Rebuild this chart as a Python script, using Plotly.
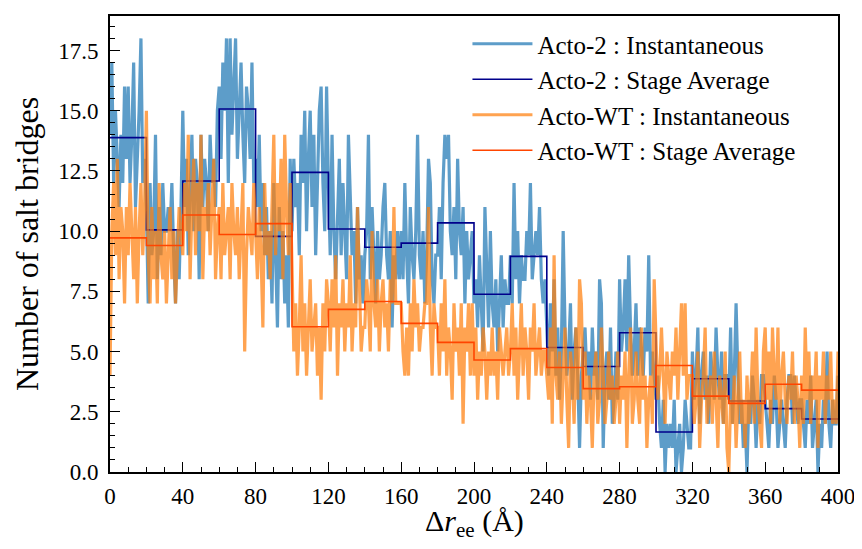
import plotly.graph_objects as go

# ---- data ----
# instantaneous values at delta r_ee = 0,1,2,...,400 (one block per 20-A stage)
acto2_inst = (
    [14, 17, 12, 15, 13, 11, 14, 12, 16, 13, 16, 12, 14, 17, 11, 13, 15, 18, 12, 13]
    + [11, 7, 12, 9, 10, 14, 8, 11, 9, 12, 10, 10, 11, 10, 12, 9, 7, 10, 8, 11]
    + [15, 11, 13, 9, 12, 14, 10, 13, 12, 8, 14, 11, 13, 12, 10, 14, 12, 13, 11, 15]
    + [16, 13, 17, 15, 18, 12, 18, 14, 16, 18, 13, 15, 17, 14, 12, 16, 15, 13, 17, 12]
    + [13, 11, 14, 10, 12, 9, 11, 8, 10, 7, 12, 9, 6, 11, 8, 10, 7, 9, 6, 13]
    + [10, 13, 11, 12, 9, 14, 12, 15, 10, 13, 15, 11, 14, 9, 12, 15, 16, 12, 10, 16]
    + [12, 9, 14, 10, 8, 11, 13, 9, 12, 10, 8, 14, 11, 9, 10, 7, 11, 8, 9, 7]
    + [9, 10, 14, 8, 11, 9, 7, 10, 8, 9, 11, 12, 9, 8, 10, 6, 9, 8, 10, 8]
    + [10, 8, 12, 9, 7, 11, 9, 8, 10, 14, 9, 8, 10, 7, 9, 13, 12, 8, 7, 9]
    + [9, 11, 8, 12, 14, 13, 14, 10, 9, 11, 8, 13, 10, 9, 11, 7, 10, 8, 9, 10]
    + [7, 8, 6, 9, 7, 5, 11, 8, 6, 10, 7, 6, 8, 5, 7, 9, 6, 8, 7, 7]
    + [9, 7, 12, 8, 10, 7, 9, 8, 8, 10, 9, 12, 8, 9, 10, 9, 11, 8, 7, 8]
    + [6, 4, 7, 5, 8, 4, 6, 3, 5, 10, 6, 4, 5, 7, 3, 5, 6, 4, 1, 4]
    + [5, 6, 4, 5, 3, 6, 4, 5, 3, 8, 7, 1, 4, 5, 3, 6, 2, 3, 5, 3]
    + [8, 5, 6, 8, 5, 9, 6, 4, 5, 7, 4, 6, 5, 4, 6, 5, 9, 4, 5, 4]
    + [3, 4, 2, 1, 3, 0, 2, 1, 2, 1, 3, 0, 1, 2, 0, 1, 3, 2, 1, 1]
    + [5, 3, 4, 6, 2, 4, 5, 3, 4, 2, 5, 4, 3, 6, 4, 3, 5, 2, 4, 4]
    + [3, 6, 2, 4, 7, 4, 2, 3, 1, 2, 0, 3, 2, 4, 3, 1, 3, 2, 4, 4]
    + [3, 2, 1, 3, 2, 4, 3, 1, 2, 3, 2, 1, 3, 4, 4, 2, 4, 3, 2, 3]
    + [3, 2, 1, 3, 2, 4, 1, 2, 3, 0, 2, 1, 3, 2, 5, 2, 1, 3, 2, 2]
    + [4]
)
actowt_inst = (
    [4, 10, 12, 9, 13, 8, 11, 10, 7, 11, 9, 12, 10, 8, 11, 7, 10, 12, 9, 11]
    + [15, 9, 7, 11, 8, 10, 7, 12, 9, 8, 10, 7, 9, 11, 8, 10, 7, 9, 11, 10]
    + [9, 12, 10, 14, 8, 11, 13, 9, 12, 10, 14, 8, 11, 10, 12, 9, 11, 13, 8, 10]
    + [11, 8, 12, 9, 10, 11, 8, 12, 10, 9, 11, 8, 10, 12, 5, 9, 11, 10, 9, 12]
    + [10, 8, 11, 9, 6, 12, 9, 10, 8, 11, 14, 9, 12, 10, 13, 8, 14, 11, 9, 12]
    + [8, 5, 7, 4, 6, 9, 5, 7, 4, 6, 8, 5, 6, 7, 4, 6, 3, 7, 5, 8]
    + [7, 5, 8, 6, 9, 4, 7, 6, 8, 5, 7, 6, 9, 5, 7, 6, 11, 8, 5, 6]
    + [6, 8, 7, 5, 10, 7, 6, 8, 5, 7, 8, 6, 7, 5, 8, 7, 11, 7, 7, 7]
    + [7, 5, 4, 6, 4, 7, 5, 8, 6, 7, 5, 6, 6, 7, 7, 11, 6, 4, 7, 6]
    + [6, 4, 7, 5, 8, 4, 6, 5, 3, 7, 5, 6, 4, 7, 2, 6, 5, 7, 4, 7]
    + [4, 6, 3, 5, 4, 6, 5, 3, 5, 4, 6, 4, 5, 3, 6, 5, 4, 5, 6, 4]
    + [5, 7, 4, 6, 3, 5, 7, 4, 6, 5, 3, 6, 5, 7, 4, 5, 6, 4, 5, 5]
    + [4, 3, 6, 2, 9, 4, 3, 5, 2, 4, 6, 3, 1, 5, 4, 2, 6, 3, 8, 7]
    + [3, 5, 2, 4, 3, 1, 4, 5, 2, 3, 6, 4, 2, 3, 5, 3, 4, 2, 3, 5]
    + [2, 4, 3, 5, 1, 4, 6, 2, 3, 5, 3, 2, 6, 3, 4, 1, 3, 4, 2, 8]
    + [5, 3, 4, 6, 4, 2, 5, 4, 3, 5, 4, 6, 3, 5, 7, 4, 7, 3, 4, 4]
    + [4, 2, 3, 5, 1, 3, 4, 6, 2, 3, 4, 2, 5, 3, 1, 4, 3, 2, 5, 1]
    + [0, 3, 2, 4, 1, 3, 5, 2, 3, 1, 4, 2, 3, 5, 2, 6, 3, 2, 1, 5]
    + [6, 3, 5, 2, 6, 4, 3, 6, 2, 4, 5, 3, 2, 4, 3, 5, 2, 4, 3, 1]
    + [4, 2, 6, 3, 5, 2, 4, 3, 5, 1, 4, 3, 5, 2, 4, 3, 5, 2, 3, 2]
    + [5]
)
inst_x = list(range(0, 401))

# stage averages (20-A stages)
stage_edges = [0, 20, 40, 60, 80, 100, 120, 140, 160, 180, 200,
               220, 240, 260, 280, 300, 320, 340, 360, 380, 400]
acto2_stage = [13.88, 10.05, 12.08, 15.07, 9.78, 12.44, 10.09, 9.33, 9.50, 10.34,
               7.38, 8.95, 5.17, 4.38, 5.78, 1.66, 3.87, 2.95, 2.63, 2.20]
actowt_stage = [9.72, 9.40, 10.67, 9.86, 10.31, 6.03, 6.75, 7.08, 6.17, 5.38,
                4.65, 5.12, 4.34, 3.46, 3.54, 4.42, 3.15, 2.85, 3.64, 3.40]

x_ticks = [0, 40, 80, 120, 160, 200, 240, 280, 320, 360, 400]
y_ticks = [0.0, 2.5, 5.0, 7.5, 10.0, 12.5, 15.0, 17.5]

FONT = "Liberation Serif, DejaVu Serif, serif"

fig = go.Figure()
fig.add_trace(go.Scatter(
    x=inst_x, y=acto2_inst, mode="lines", name="Acto-2 : Instantaneous",
    line=dict(color="rgba(31,119,180,0.72)", width=3.2), legendgroup="a"))
fig.add_trace(go.Scatter(
    x=stage_edges, y=acto2_stage + [acto2_stage[-1]], mode="lines",
    name="Acto-2 : Stage Average", line=dict(color="#00008b", width=1.6, shape="hv"),
    legendgroup="b"))
fig.add_trace(go.Scatter(
    x=inst_x, y=actowt_inst, mode="lines", name="Acto-WT : Instantaneous",
    line=dict(color="rgba(255,127,14,0.72)", width=3.2), legendgroup="c"))
fig.add_trace(go.Scatter(
    x=stage_edges, y=actowt_stage + [actowt_stage[-1]], mode="lines",
    name="Acto-WT : Stage Average", line=dict(color="#ff4500", width=1.6, shape="hv"),
    legendgroup="d"))

axis_common = dict(
    showgrid=False, zeroline=False, showline=True, linecolor="black", linewidth=1.6,
    mirror=True, ticks="inside", ticklen=10, tickwidth=1.4, tickcolor="black",
    tickfont=dict(family=FONT, size=23, color="black"), automargin=False,
)
fig.update_xaxes(
    **axis_common, range=[0, 400], tickvals=x_ticks, ticklabelstandoff=3,
    minor=dict(dtick=10, ticks="inside", ticklen=5, tickwidth=1.2, tickcolor="black"),
)
fig.update_yaxes(
    **axis_common, range=[0, 18.93], tickvals=y_ticks, tickformat=".1f", ticklabelstandoff=5,
    minor=dict(dtick=0.5, ticks="inside", ticklen=5, tickwidth=1.2, tickcolor="black"),
    title=dict(text="Number of salt bridges", font=dict(family=FONT, size=32, color="black"),
               standoff=10),
)
# x-axis title placed just below the tick labels
fig.add_annotation(
    text="Δ<i>r</i><sub>ee</sub> (Å)", xref="paper", yref="paper", x=0.5, y=-0.112,
    xanchor="center", yanchor="middle", showarrow=False,
    font=dict(family=FONT, size=30, color="black"),
)
# the page adds an 8 px body margin, so the figure is offset by 8 px in the window
fig.update_layout(
    width=854, height=533,
    margin=dict(l=102, r=24, t=8, b=69),
    plot_bgcolor="white", paper_bgcolor="white",
    font=dict(family=FONT, color="black"),
    legend=dict(x=0.491, y=0.989, xanchor="left", yanchor="top", bgcolor="rgba(0,0,0,0)",
                font=dict(family=FONT, size=25, color="black"), tracegroupgap=0,
                itemwidth=60),
)

fig.write_html("out.html")
